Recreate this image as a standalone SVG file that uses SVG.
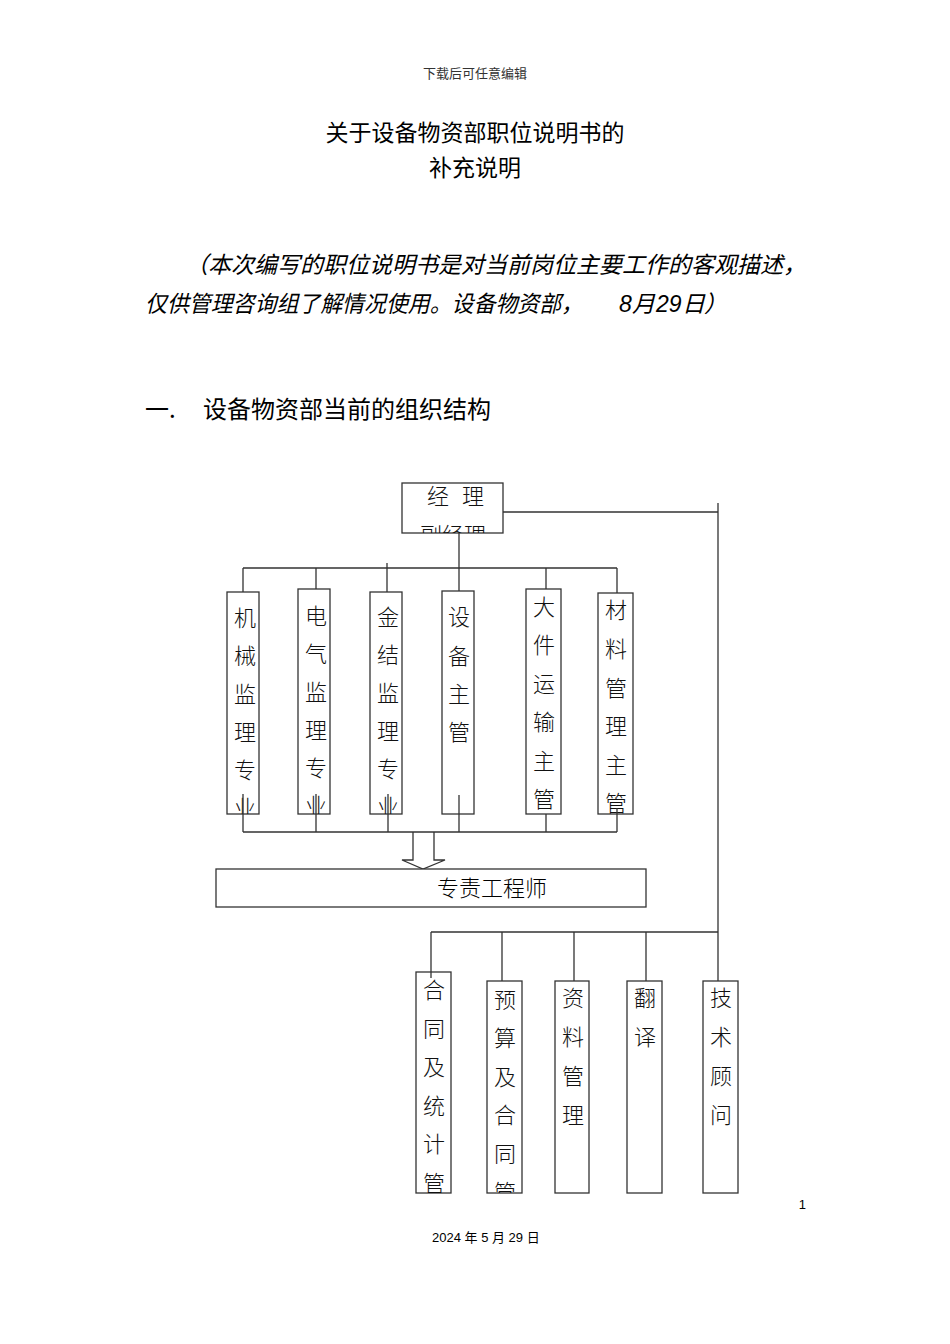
<svg xmlns="http://www.w3.org/2000/svg" width="950" height="1344" viewBox="0 0 950 1344">
<style>
.cn{font-family:"Noto Sans CJK SC","Noto Sans",sans-serif;fill:#000}
.hdr{font-family:"Liberation Serif","Noto Sans CJK SC",serif;font-size:13px;fill:#333}
.ft{font-family:"Liberation Sans","Noto Sans CJK SC",sans-serif;font-size:13px;fill:#000}
.title{font-size:23px}
.it{font-size:23px;font-style:italic}
.box{fill:#fff;stroke:#333;stroke-width:1.3}
.ln{fill:none;stroke:#333;stroke-width:1.3}
.lbl{font-family:"Noto Sans CJK SC","Noto Sans",sans-serif;font-size:22px;fill:#111;text-anchor:middle;font-weight:300}
</style>
<defs>
<clipPath id="cMgr"><rect x="402" y="483" width="101" height="50"/></clipPath>
<clipPath id="c1"><rect x="227" y="592" width="32" height="222"/></clipPath>
<clipPath id="c2"><rect x="298" y="589" width="32" height="225"/></clipPath>
<clipPath id="c3"><rect x="370" y="592" width="32" height="222"/></clipPath>
<clipPath id="c4"><rect x="442" y="591" width="32" height="223"/></clipPath>
<clipPath id="c5"><rect x="526" y="589" width="35" height="225"/></clipPath>
<clipPath id="c6"><rect x="598" y="593" width="35" height="221"/></clipPath>
<clipPath id="b1"><rect x="416" y="972" width="35" height="221"/></clipPath>
<clipPath id="b2"><rect x="487" y="981" width="35" height="212"/></clipPath>
<clipPath id="b3"><rect x="555" y="981" width="34" height="212"/></clipPath>
<clipPath id="b4"><rect x="627" y="981" width="35" height="212"/></clipPath>
<clipPath id="b5"><rect x="703" y="981" width="35" height="212"/></clipPath>
</defs>
<rect x="0" y="0" width="950" height="1344" fill="#fff"/>

<g id="page-text">
<text class="hdr" x="475" y="78" text-anchor="middle">下载后可任意编辑</text>
<text class="cn title" x="475" y="141" text-anchor="middle">关于设备物资部职位说明书的</text>
<text class="cn title" x="475" y="176" text-anchor="middle">补充说明</text>
<text class="cn it" x="185" y="273">（本次编写的职位说明书是对当前岗位主要工作的客观描述，</text>
<text class="cn it" x="145" y="312" textLength="438" lengthAdjust="spacingAndGlyphs">仅供管理咨询组了解情况使用。设备物资部，</text>
<text class="it" y="312" style="font-family:'Liberation Sans','Noto Sans CJK SC',sans-serif"><tspan x="619">8</tspan><tspan x="632">月</tspan><tspan x="656">29</tspan><tspan x="682">日</tspan><tspan x="704">）</tspan></text>
<text class="cn" x="145" y="418" font-size="24">一.</text>
<text class="cn" x="203" y="418" font-size="24">设备物资部当前的组织结构</text>
<text class="ft" x="806" y="1209" text-anchor="end">1</text>
<text class="ft" x="432" y="1242">2024 年 5 月 29 日</text>
</g>

<g id="connectors">
<path class="ln" d="M503 512 H718 M718 503 V981"/>
<path class="ln" d="M459 533 V591 M243 568 H617 M243 568 V595 M316 568 V595 M387 563 V595 M546 568 V600 M617 568 V593"/>
<path class="ln" d="M243 832 H617 M243 794 V832 M316 794 V832 M388 794 V832 M459 795 V832 M546 814 V832 M617 808 V832"/>
<path class="ln" d="M413 832 V860 H402 L423 869 L445 860 H434 V832"/>
<path class="ln" d="M431 932 H718 M431 932 V978 M502 932 V981 M574 932 V981 M646 932 V981"/>
</g>

<g id="n-manager">
<rect class="box" x="402" y="483" width="101" height="50"/>
<g clip-path="url(#cMgr)">
<text class="lbl" x="438" y="504">经</text>
<text class="lbl" x="473" y="504">理</text>
<text class="lbl" x="453" y="543">副经理</text>
</g>
</g>

<g id="n-jixie">
<rect class="box" x="227" y="592" width="32" height="222"/>
<text class="lbl" clip-path="url(#c1)"><tspan x="245" y="626">机</tspan><tspan x="245" y="664">械</tspan><tspan x="245" y="702">监</tspan><tspan x="245" y="740">理</tspan><tspan x="245" y="778">专</tspan><tspan x="245" y="816">业</tspan></text>
<path class="ln" d="M243 794 V814"/>
</g>
<g id="n-dianqi">
<rect class="box" x="298" y="589" width="32" height="225"/>
<text class="lbl" clip-path="url(#c2)"><tspan x="316" y="624">电</tspan><tspan x="316" y="662">气</tspan><tspan x="316" y="700">监</tspan><tspan x="316" y="738">理</tspan><tspan x="316" y="776">专</tspan><tspan x="316" y="814">业</tspan></text>
<path class="ln" d="M316 794 V814"/>
</g>
<g id="n-jinjie">
<rect class="box" x="370" y="592" width="32" height="222"/>
<text class="lbl" clip-path="url(#c3)"><tspan x="388" y="625">金</tspan><tspan x="388" y="663">结</tspan><tspan x="388" y="701">监</tspan><tspan x="388" y="739">理</tspan><tspan x="388" y="777">专</tspan><tspan x="388" y="815">业</tspan></text>
<path class="ln" d="M388 794 V814"/>
</g>
<g id="n-shebei">
<rect class="box" x="442" y="591" width="32" height="223"/>
<text class="lbl" clip-path="url(#c4)"><tspan x="459" y="625">设</tspan><tspan x="459" y="664">备</tspan><tspan x="459" y="702">主</tspan><tspan x="459" y="740">管</tspan></text>
<path class="ln" d="M459 795 V814"/>
</g>
<g id="n-dajian">
<rect class="box" x="526" y="589" width="35" height="225"/>
<text class="lbl" clip-path="url(#c5)"><tspan x="544" y="615">大</tspan><tspan x="544" y="653">件</tspan><tspan x="544" y="692">运</tspan><tspan x="544" y="730">输</tspan><tspan x="544" y="769">主</tspan><tspan x="544" y="807">管</tspan></text>
</g>
<g id="n-cailiao">
<rect class="box" x="598" y="593" width="35" height="221"/>
<text class="lbl" clip-path="url(#c6)"><tspan x="616" y="618">材</tspan><tspan x="616" y="657">料</tspan><tspan x="616" y="696">管</tspan><tspan x="616" y="734">理</tspan><tspan x="616" y="773">主</tspan><tspan x="616" y="811">管</tspan></text>
<path class="ln" d="M617 808 V814"/>
</g>

<g id="n-zhuanze">
<rect class="box" x="216" y="869" width="430" height="38"/>
<text class="cn" x="437" y="896" font-size="22" style="font-weight:300">专责工程师</text>
</g>

<g id="n-hetong">
<rect class="box" x="416" y="972" width="35" height="221"/>
<text class="lbl" clip-path="url(#b1)"><tspan x="434" y="998">合</tspan><tspan x="434" y="1037">同</tspan><tspan x="434" y="1075">及</tspan><tspan x="434" y="1114">统</tspan><tspan x="434" y="1152">计</tspan><tspan x="434" y="1191">管</tspan></text>
<path class="ln" d="M431 972 V978"/>
</g>
<g id="n-yusuan">
<rect class="box" x="487" y="981" width="35" height="212"/>
<text class="lbl" clip-path="url(#b2)"><tspan x="505" y="1008">预</tspan><tspan x="505" y="1046">算</tspan><tspan x="505" y="1085">及</tspan><tspan x="505" y="1123">合</tspan><tspan x="505" y="1162">同</tspan><tspan x="505" y="1200">管</tspan></text>
</g>
<g id="n-ziliao">
<rect class="box" x="555" y="981" width="34" height="212"/>
<text class="lbl" clip-path="url(#b3)"><tspan x="573" y="1006">资</tspan><tspan x="573" y="1045">料</tspan><tspan x="573" y="1084">管</tspan><tspan x="573" y="1123">理</tspan></text>
</g>
<g id="n-fanyi">
<rect class="box" x="627" y="981" width="35" height="212"/>
<text class="lbl" clip-path="url(#b4)"><tspan x="645" y="1006">翻</tspan><tspan x="645" y="1045">译</tspan></text>
</g>
<g id="n-jishu">
<rect class="box" x="703" y="981" width="35" height="212"/>
<text class="lbl" clip-path="url(#b5)"><tspan x="721" y="1006">技</tspan><tspan x="721" y="1045">术</tspan><tspan x="721" y="1084">顾</tspan><tspan x="721" y="1123">问</tspan></text>
</g>
</svg>
